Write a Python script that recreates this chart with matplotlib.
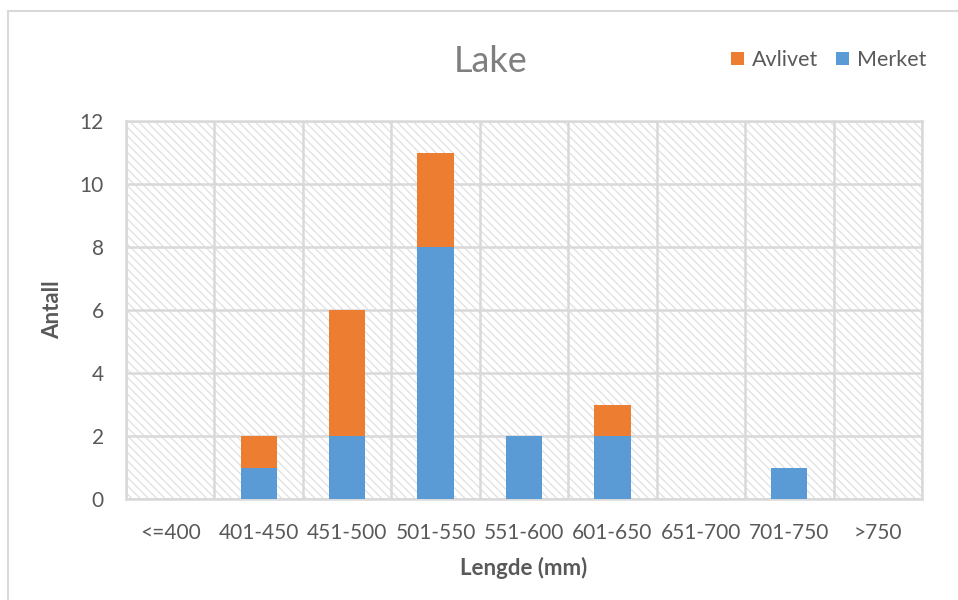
import numpy as np
import matplotlib
matplotlib.use("Agg")
import matplotlib.pyplot as plt
from matplotlib.patches import Rectangle

# data
categories = ["<=400", "401-450", "451-500", "501-550", "551-600",
              "601-650", "651-700", "701-750", ">750"]
merket = [0, 1, 2, 8, 2, 2, 0, 1, 0]
avlivet = [0, 1, 4, 3, 0, 1, 0, 0, 0]
yticks = [0, 2, 4, 6, 8, 10, 12]

blue = "#5B9BD5"
orange = "#ED7D31"
grid_col = "#d9d9d9"
txt_col = "#595959"

plt.rcParams['font.family'] = ['Lato', 'DejaVu Sans']
plt.rcParams['hatch.linewidth'] = 0.9

fig = plt.figure(figsize=(9.58, 6), dpi=100)
ax = fig.add_axes([0.1315, 0.1683, 0.8309, 0.63])

# outer chart border (top/left visible)
fig.patches.append(Rectangle((8/958, -0.1), 1.2, 1 - 11/600 + 0.1,
                             transform=fig.transFigure, fill=False,
                             edgecolor=grid_col, linewidth=1.5))

# hatched plot area
ax.add_patch(Rectangle((0, 0), 1, 1, transform=ax.transAxes,
                       facecolor="white", edgecolor="#e0e0e0",
                       hatch="\\\\\\\\", linewidth=0, zorder=0))

x = np.arange(len(categories))
w = 0.41
ax.bar(x, merket, w, color=blue, label="Merket", zorder=3)
ax.bar(x, avlivet, w, bottom=merket, color=orange, label="Avlivet", zorder=3)

ax.set_xlim(-0.5, len(categories) - 0.5)
ax.set_ylim(0, 12)
ax.set_yticks(yticks)
ax.set_xticks(x)
ax.set_xticklabels(categories)
ax.set_xticks(np.arange(-0.5, len(categories), 1), minor=True)

ax.grid(False)
ax.yaxis.grid(True, color=grid_col, linewidth=1.8, zorder=1)
ax.xaxis.grid(True, which="minor", color=grid_col, linewidth=1.8, zorder=1)
ax.set_axisbelow(True)

for s in ax.spines.values():
    s.set_color(grid_col)
    s.set_linewidth(1.8)

ax.tick_params(axis="both", which="both", length=0, labelsize=15,
               labelcolor=txt_col)
ax.tick_params(axis="y", pad=16)
ax.tick_params(axis="x", pad=17)

ax.set_ylabel("Antall", fontsize=16, fontweight="bold", color=txt_col,
              labelpad=12)
ax.set_xlabel("Lengde (mm)", fontsize=16, fontweight="bold", color=txt_col,
              labelpad=10)

fig.text(0.512, 0.897, "Lake", fontsize=26, color="#7f7f7f",
         ha="center", va="center")

h, l = ax.get_legend_handles_labels()
ax.legend(h[::-1], l[::-1], loc="center", bbox_to_anchor=(0.865, 0.9),
          bbox_transform=fig.transFigure, ncol=2, frameon=False,
          fontsize=15.5, handlelength=0.6, handleheight=0.6,
          handletextpad=0.4, columnspacing=0.8, labelcolor=txt_col)

fig.savefig("out.png", dpi=100)
